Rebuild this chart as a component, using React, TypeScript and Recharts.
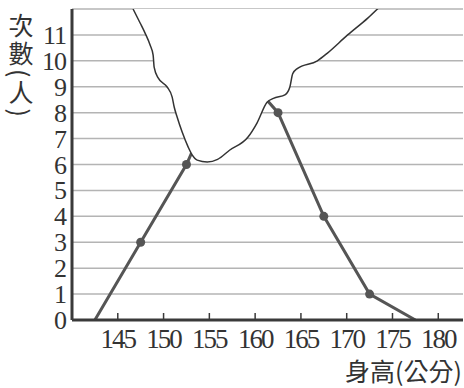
import { ComposedChart, Line, Area, XAxis, YAxis, CartesianGrid } from 'recharts';

// 身高分組的組中點與次數
const heights = [142.5, 147.5, 152.5, 157.5, 162.5, 167.5, 172.5, 177.5];
const counts = [0, 3, 6, 10, 8, 4, 1, 0];

// 撕破處的邊緣 (data coords)
const tearX = [146.67, 147.44, 147.98, 148.53, 148.86, 148.97, 149.41, 150.39, 150.94, 151.16, 151.48, 152.03, 152.69, 153.12, 153.67, 154.77, 155.9, 157.2, 159.2, 160.2, 161.3, 162.0, 163.3, 163.8, 164.1, 164.6, 166.8, 167.9, 170.1, 172.3, 173.5];
const tearY = [12.0, 11.46, 11.07, 10.61, 10.22, 9.76, 9.34, 8.99, 8.6, 8.22, 7.83, 7.25, 6.67, 6.37, 6.17, 6.1, 6.2, 6.55, 7.05, 7.6, 8.4, 8.55, 8.7, 9.0, 9.5, 9.7, 10.0, 10.3, 11.0, 11.65, 12.05];

const xTicks = [145, 150, 155, 160, 165, 170, 175, 180];
const yTicks = [0, 1, 2, 3, 4, 5, 6, 7, 8, 9, 10, 11, 12];

const rows = [
  ...heights.map((h, i) => ({ x: h, count: counts[i] })),
  ...tearX.map((t, i) => ({ x: t, tear: tearY[i] })),
].sort((a, b) => a.x - b.x);

const ink = '#3a3a3a';
const serif = '"Liberation Serif", "DejaVu Serif", serif';

const XTick = ({ x, y, payload }: any) => (
  <g>
    <line x1={x} x2={x} y1={y - 7} y2={y} stroke={ink} strokeWidth={1.5} />
    <text x={x} y={y + 28} textAnchor="middle" fontFamily={serif} fontSize={27} letterSpacing={-2} fill="#333">
      {payload.value}
    </text>
  </g>
);

const YTick = ({ x, y, payload }: any) =>
  payload.value === 12 ? null : (
    <text x={x} y={y + 9} textAnchor="end" fontFamily={serif} fontSize={26} letterSpacing={-1} fill="#333">
      {payload.value}
    </text>
  );

// 兩端 (次數 0) 不畫點
const Dot = ({ cx, cy, payload, index }: any) =>
  payload.count === 0 ? <g key={index} /> : <circle key={index} cx={cx} cy={cy} r={4.5} fill="#555" />;

const cjk = '"Noto Sans CJK TC", "Noto Sans CJK SC", sans-serif';

export default function App() {
  return (
    <div style={{ position: 'absolute', left: 0, top: 0, width: 464, height: 388, background: '#fff' }}>
      <ComposedChart width={464} height={388} data={rows} margin={{ top: 9, right: 1, left: 0, bottom: 0 }}>
        <CartesianGrid vertical={false} stroke="#b4b4b4" strokeWidth={1.5} />
        <XAxis
          dataKey="x"
          type="number"
          domain={[140, 182.7]}
          ticks={xTicks}
          height={68}
          tickSize={0}
          tickMargin={0}
          tickLine={false}
          tick={<XTick />}
          axisLine={{ stroke: ink, strokeWidth: 3 }}
          allowDataOverflow
        />
        <YAxis
          type="number"
          domain={[0, 12]}
          ticks={yTicks}
          width={72}
          tickSize={0}
          tickMargin={6}
          tickLine={false}
          tick={<YTick />}
          axisLine={{ stroke: ink, strokeWidth: 3 }}
          allowDataOverflow
        />
        <Line
          dataKey="count"
          type="linear"
          stroke="#555"
          strokeWidth={3}
          dot={<Dot />}
          activeDot={false}
          connectNulls
          isAnimationActive={false}
        />
        <Area
          dataKey="tear"
          type="monotone"
          baseValue={12}
          fill="#fff"
          fillOpacity={1}
          stroke="#333"
          strokeWidth={1.5}
          connectNulls
          activeDot={false}
          isAnimationActive={false}
          {...({ zIndex: 2000 } as any)}
        />
      </ComposedChart>
      <div style={{ position: 'absolute', left: 8, top: 13, writingMode: 'vertical-rl', fontFamily: cjk, fontSize: 25, lineHeight: 1, letterSpacing: 3, color: '#333' }}>
        次數(人)
      </div>
      <div style={{ position: 'absolute', right: 2, top: 358, fontFamily: cjk, fontSize: 25, lineHeight: 1, color: '#333', whiteSpace: 'nowrap' }}>
        身高(公分)
      </div>
    </div>
  );
}
